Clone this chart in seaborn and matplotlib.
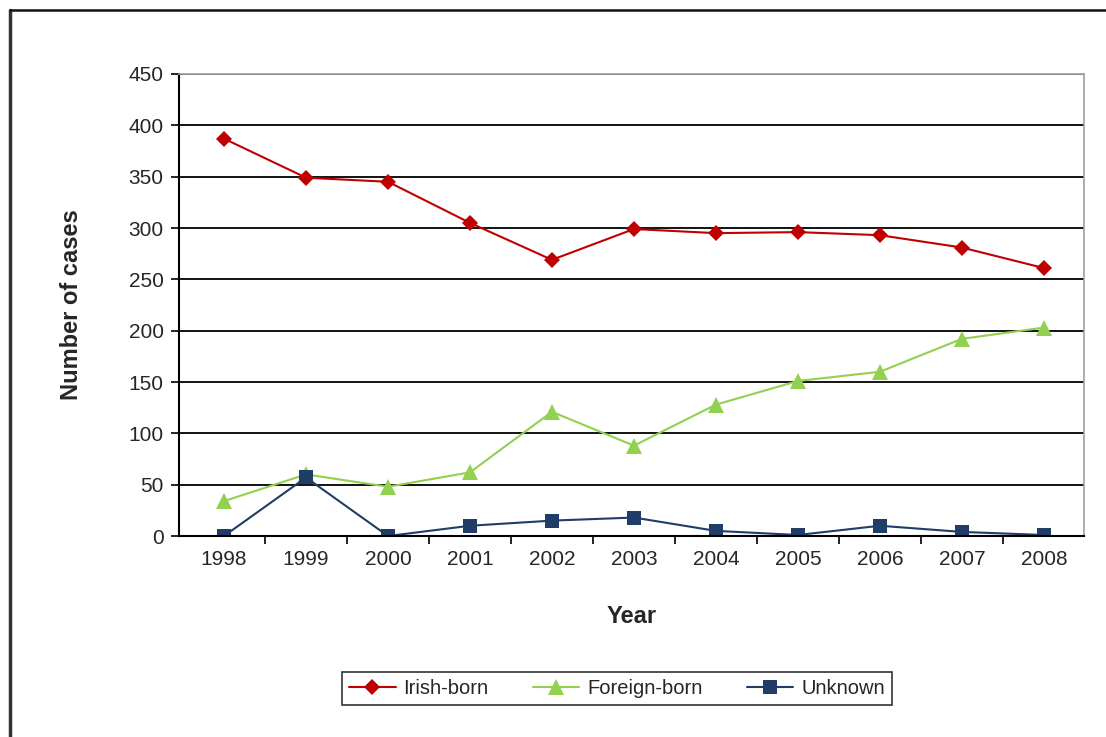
import numpy as np
import pandas as pd
import seaborn as sns
import matplotlib.pyplot as plt
from matplotlib.lines import Line2D
from matplotlib.ticker import FixedLocator

# Data
years = [1998, 1999, 2000, 2001, 2002, 2003, 2004, 2005, 2006, 2007, 2008]
irish_born = [387, 349, 345, 305, 269, 299, 295, 296, 293, 281, 261]
foreign_born = [34, 60, 48, 62, 121, 88, 128, 151, 160, 192, 203]
unknown = [0, 57, 0, 10, 15, 18, 5, 1, 10, 4, 1]

series_names = ['Irish-born', 'Foreign-born', 'Unknown']
colors = {'Irish-born': '#C00000', 'Foreign-born': '#92D050', 'Unknown': '#1F3D66'}
markers = {'Irish-born': 'D', 'Foreign-born': '^', 'Unknown': 's'}
marker_sizes = {'Irish-born': 8.5, 'Foreign-born': 11, 'Unknown': 10}

df = pd.DataFrame({
    'Year': years * 3,
    'Cases': irish_born + foreign_born + unknown,
    'Group': [n for n in series_names for _ in years],
})

sns.set_style('white')
plt.rcParams['font.family'] = ['Liberation Sans', 'DejaVu Sans']

fig = plt.figure(figsize=(11.06, 7.37), dpi=100)
ax = fig.add_axes([0.1618, 0.2727, 0.8183, 0.6269])

sns.lineplot(data=df, x='Year', y='Cases', hue='Group', style='Group',
             palette=colors, markers=markers, dashes=False, markersize=9,
             markeredgewidth=0, linewidth=1.5, ax=ax, legend=True)

# per-series marker sizes, also in the legend handles
for line, lab in zip(ax.lines[:3], series_names):
    line.set_markersize(marker_sizes[lab])
handles, labels = ax.get_legend_handles_labels()
for h, lab in zip(handles, labels):
    h.set_markersize(marker_sizes[lab])

ax.set_xlim(1997.45, 2008.49)
ax.set_ylim(0, 450)
ax.set_yticks(np.arange(0, 451, 50))
ax.set_xticks(years)
ax.xaxis.set_minor_locator(FixedLocator([y + 0.5 for y in years[:-1]]))
ax.tick_params(axis='x', which='major', length=0, labelsize=15, pad=10)
ax.tick_params(axis='x', which='minor', length=6, width=1.2, direction='out',
               color='black', bottom=True)
ax.tick_params(axis='y', length=6, width=1.2, direction='out', color='black',
               left=True, labelsize=15, pad=5)
ax.grid(axis='y', color='black', linewidth=1.3)
ax.set_axisbelow(True)

for side in ['top', 'right']:
    ax.spines[side].set_color('#A0A0A0')
    ax.spines[side].set_linewidth(1.2)
for side in ['left', 'bottom']:
    ax.spines[side].set_color('black')
    ax.spines[side].set_linewidth(1.5)

ax.set_xlabel('Year', fontsize=17, fontweight='bold', labelpad=26)
ax.set_ylabel('Number of cases', fontsize=17, fontweight='bold', labelpad=33)

ax.legend(handles, labels, loc='center', bbox_to_anchor=(0.558, 0.066),
          bbox_transform=fig.transFigure, ncol=3, frameon=True, fancybox=False,
          edgecolor='black', fontsize=14.5, handlelength=2.3, columnspacing=2.2,
          borderpad=0.35, handletextpad=0.4)
ax.get_legend().get_frame().set_linewidth(1.2)

# outer frame (left and top edges)
fig.add_artist(Line2D([10 / 1106, 10 / 1106], [0, 1 - 10 / 737],
                      transform=fig.transFigure, color='#333333', linewidth=2.5))
fig.add_artist(Line2D([10 / 1106, 1], [1 - 10 / 737, 1 - 10 / 737],
                      transform=fig.transFigure, color='#111111', linewidth=1.8))

fig.savefig('out.png', dpi=100)
